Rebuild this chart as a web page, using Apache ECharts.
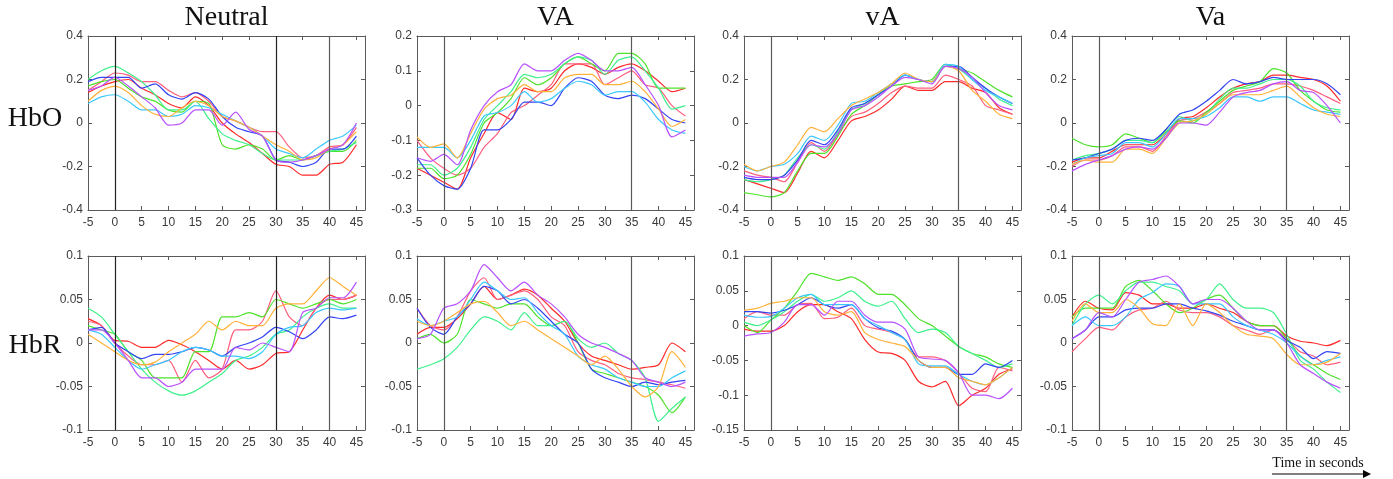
<!DOCTYPE html>
<html>
<head>
<meta charset="utf-8">
<script src="https://cdn.jsdelivr.net/npm/echarts@6/dist/echarts.min.js"></script>
<style>
  html, body { margin: 0; padding: 0; background: #fff; }
  #chart { width: 1393px; height: 479px; }
</style>
</head>
<body>
<div id="chart"></div>
<script>
// ---- data ----
const time = [-5,-2.5,0,2.5,5,7.5,10,12.5,15,17.5,20,22.5,25,27.5,30,32.5,35,37.5,40,42.5,45];
const conditions = ['Neutral','VA','vA','Va'];
const signals = ['HbO','HbR'];
const eventsNeutral = [0,30,40];
const eventsOther = [0,35];
// series order: red, pink, green, mint, blue, cyan, orange, purple
const hboNeutral = [
  [0.14,0.17,0.19,0.20,0.16,0.13,0.09,0.07,0.12,0.08,0.00,-0.05,-0.09,-0.14,-0.19,-0.20,-0.24,-0.24,-0.19,-0.18,-0.10],
  [0.15,0.19,0.23,0.22,0.19,0.19,0.15,0.12,0.14,0.10,0.03,0.01,-0.02,-0.04,-0.04,-0.11,-0.16,-0.15,-0.11,-0.10,-0.02],
  [0.17,0.19,0.20,0.16,0.12,0.10,0.06,0.05,0.10,0.09,-0.10,-0.12,-0.10,-0.12,-0.17,-0.15,-0.17,-0.15,-0.13,-0.13,-0.08],
  [0.20,0.24,0.26,0.23,0.19,0.13,0.06,0.06,0.10,0.02,-0.05,-0.08,-0.10,-0.14,-0.17,-0.17,-0.17,-0.15,-0.13,-0.12,-0.09],
  [0.19,0.21,0.21,0.21,0.16,0.18,0.13,0.11,0.14,0.11,0.03,-0.02,-0.04,-0.06,-0.17,-0.18,-0.20,-0.18,-0.12,-0.12,-0.06],
  [0.09,0.12,0.13,0.10,0.06,0.06,0.03,0.04,0.08,0.07,0.04,0.01,-0.02,-0.06,-0.12,-0.14,-0.16,-0.12,-0.08,-0.06,-0.01],
  [0.10,0.15,0.17,0.14,0.08,0.04,0.03,0.07,0.10,0.08,0.03,0.01,-0.02,-0.06,-0.10,-0.13,-0.17,-0.16,-0.12,-0.10,-0.04],
  [0.15,0.17,0.21,0.17,0.12,0.07,-0.01,0.00,0.06,0.06,-0.01,0.05,-0.03,-0.06,-0.17,-0.18,-0.17,-0.15,-0.12,-0.10,0.00]
];
const hboVA = [
  [-0.18,-0.20,-0.22,-0.24,-0.15,-0.08,-0.02,-0.04,0.05,0.04,0.05,0.10,0.12,0.11,0.09,0.11,0.12,0.10,0.07,0.04,0.05],
  [-0.10,-0.15,-0.18,-0.20,-0.18,-0.12,-0.08,-0.02,0.00,0.03,0.06,0.12,0.12,0.12,0.06,0.08,0.10,0.06,0.05,0.00,-0.03],
  [-0.18,-0.18,-0.21,-0.20,-0.14,-0.05,-0.02,0.02,0.08,0.06,0.08,0.12,0.14,0.12,0.10,0.15,0.15,0.12,0.05,0.05,0.05],
  [-0.17,-0.17,-0.20,-0.18,-0.12,-0.04,0.00,0.04,0.09,0.08,0.09,0.12,0.14,0.13,0.09,0.13,0.14,0.10,0.05,-0.01,0.00],
  [-0.15,-0.20,-0.23,-0.24,-0.18,-0.07,-0.07,-0.04,0.01,0.01,0.00,0.05,0.08,0.07,0.03,0.02,0.03,0.02,-0.01,-0.04,-0.05],
  [-0.12,-0.12,-0.12,-0.15,-0.10,-0.03,-0.02,0.00,0.04,0.01,0.02,0.05,0.07,0.06,0.03,0.04,0.04,0.01,-0.04,-0.07,-0.08],
  [-0.09,-0.12,-0.11,-0.15,-0.08,-0.01,0.02,0.03,0.06,0.04,0.04,0.08,0.09,0.09,0.06,0.06,0.07,0.04,-0.01,-0.06,-0.04],
  [-0.15,-0.16,-0.14,-0.17,-0.07,0.00,0.04,0.06,0.12,0.10,0.10,0.13,0.15,0.13,0.10,0.10,0.11,0.06,0.00,-0.09,-0.07]
];
const hbovA = [
  [-0.26,-0.28,-0.30,-0.32,-0.23,-0.13,-0.16,-0.08,0.01,0.03,0.06,0.11,0.17,0.15,0.15,0.19,0.19,0.16,0.14,0.07,0.04],
  [-0.22,-0.24,-0.25,-0.27,-0.18,-0.09,-0.13,-0.05,0.03,0.05,0.09,0.14,0.17,0.16,0.16,0.22,0.20,0.17,0.08,0.06,0.04],
  [-0.32,-0.33,-0.34,-0.32,-0.22,-0.14,-0.14,-0.06,0.04,0.08,0.13,0.17,0.18,0.19,0.20,0.27,0.25,0.23,0.19,0.15,0.12],
  [-0.26,-0.27,-0.26,-0.24,-0.16,-0.10,-0.12,-0.04,0.06,0.09,0.13,0.18,0.22,0.20,0.19,0.27,0.25,0.20,0.16,0.11,0.08],
  [-0.25,-0.26,-0.26,-0.24,-0.17,-0.08,-0.10,-0.03,0.07,0.09,0.13,0.17,0.22,0.20,0.19,0.26,0.26,0.21,0.16,0.12,0.09],
  [-0.20,-0.22,-0.20,-0.19,-0.14,-0.06,-0.08,-0.01,0.09,0.10,0.14,0.18,0.22,0.20,0.19,0.27,0.26,0.20,0.15,0.12,0.09],
  [-0.19,-0.22,-0.20,-0.18,-0.10,-0.02,-0.04,0.02,0.08,0.11,0.14,0.18,0.23,0.20,0.19,0.26,0.24,0.15,0.10,0.04,0.02],
  [-0.24,-0.25,-0.25,-0.25,-0.18,-0.10,-0.11,-0.05,0.06,0.08,0.12,0.17,0.21,0.20,0.18,0.26,0.25,0.21,0.14,0.08,0.06]
];
const hboVa = [
  [-0.18,-0.16,-0.16,-0.13,-0.10,-0.10,-0.10,-0.05,0.02,0.03,0.07,0.12,0.16,0.18,0.19,0.22,0.22,0.21,0.20,0.17,0.10],
  [-0.20,-0.17,-0.17,-0.15,-0.11,-0.11,-0.13,-0.06,0.01,0.02,0.05,0.09,0.14,0.15,0.16,0.18,0.18,0.17,0.15,0.12,0.09],
  [-0.07,-0.10,-0.11,-0.10,-0.05,-0.07,-0.09,-0.04,0.01,0.00,0.05,0.10,0.15,0.17,0.19,0.25,0.23,0.15,0.10,0.06,0.05],
  [-0.17,-0.15,-0.14,-0.12,-0.08,-0.08,-0.09,-0.03,0.03,0.01,0.04,0.11,0.16,0.16,0.18,0.20,0.20,0.17,0.10,0.07,0.06],
  [-0.17,-0.16,-0.14,-0.12,-0.08,-0.07,-0.08,-0.03,0.04,0.06,0.10,0.15,0.20,0.18,0.19,0.21,0.20,0.20,0.20,0.18,0.13],
  [-0.19,-0.16,-0.15,-0.14,-0.09,-0.09,-0.11,-0.05,0.02,0.02,0.03,0.07,0.12,0.12,0.10,0.12,0.12,0.09,0.06,0.05,0.04],
  [-0.19,-0.17,-0.18,-0.18,-0.12,-0.12,-0.14,-0.07,0.00,0.01,0.04,0.09,0.13,0.13,0.13,0.15,0.17,0.12,0.07,0.04,0.03],
  [-0.22,-0.19,-0.17,-0.15,-0.12,-0.11,-0.12,-0.07,0.00,0.00,-0.01,0.05,0.12,0.14,0.15,0.18,0.19,0.15,0.14,0.08,0.00]
];
const hbrNeutral = [
  [0.028,0.020,0.003,0.002,-0.005,-0.005,0.003,-0.002,-0.010,-0.020,-0.030,-0.020,-0.030,-0.025,-0.012,-0.010,0.015,0.040,0.055,0.050,0.055],
  [0.025,0.020,0.000,-0.015,-0.025,-0.025,-0.020,-0.045,-0.020,-0.040,-0.030,0.015,0.015,0.025,0.060,0.030,0.020,0.040,0.050,0.050,0.055],
  [0.020,0.015,0.010,-0.010,-0.020,-0.040,-0.040,-0.040,-0.010,-0.010,0.030,0.030,0.035,0.030,0.050,0.045,0.040,0.045,0.050,0.045,0.050],
  [0.040,0.030,0.010,-0.010,-0.030,-0.045,-0.055,-0.060,-0.055,-0.045,-0.035,-0.020,-0.015,-0.005,0.010,0.015,0.030,0.040,0.045,0.040,0.040],
  [0.015,0.018,0.000,-0.010,-0.018,-0.013,-0.013,-0.010,-0.005,-0.008,-0.015,-0.005,0.000,0.007,0.018,0.013,0.005,0.015,0.030,0.028,0.032],
  [0.015,0.010,-0.005,-0.020,-0.030,-0.025,-0.020,-0.010,-0.005,-0.008,-0.015,-0.015,-0.018,-0.010,0.010,0.018,0.020,0.035,0.040,0.038,0.040],
  [0.010,0.000,-0.010,-0.020,-0.025,-0.022,-0.010,0.000,0.010,0.025,0.015,0.025,0.020,0.020,0.040,0.045,0.045,0.060,0.075,0.065,0.055],
  [0.015,0.015,0.000,-0.020,-0.040,-0.040,-0.050,-0.045,-0.030,-0.030,-0.030,-0.005,-0.008,0.000,-0.005,-0.010,0.035,0.040,0.052,0.052,0.070]
];
const hbrVA = [
  [0.010,0.018,0.018,0.028,0.045,0.065,0.050,0.055,0.062,0.055,0.040,0.025,0.000,-0.015,-0.020,-0.025,-0.030,-0.028,-0.025,0.000,-0.010],
  [0.040,0.020,0.015,0.030,0.060,0.075,0.050,0.055,0.060,0.050,0.030,0.020,-0.010,-0.020,-0.025,-0.035,-0.040,-0.042,-0.045,-0.048,-0.052],
  [0.005,0.010,0.000,0.010,0.050,0.045,0.040,0.045,0.045,0.030,0.020,0.025,0.000,-0.030,-0.035,-0.040,-0.045,-0.050,-0.060,-0.080,-0.062],
  [-0.030,-0.025,-0.018,-0.005,0.015,0.030,0.025,0.015,0.035,0.020,0.020,0.025,0.005,-0.005,0.000,-0.012,-0.020,-0.040,-0.090,-0.075,-0.062],
  [0.040,0.018,0.010,0.030,0.045,0.065,0.060,0.045,0.050,0.040,0.025,0.010,0.000,-0.030,-0.040,-0.045,-0.050,-0.045,-0.048,-0.045,-0.043],
  [0.028,0.020,0.025,0.030,0.050,0.070,0.060,0.050,0.052,0.035,0.020,0.010,-0.015,-0.025,-0.030,-0.040,-0.045,-0.050,-0.050,-0.040,-0.032],
  [0.025,0.020,0.025,0.035,0.045,0.048,0.035,0.020,0.025,0.015,0.005,-0.005,-0.015,-0.025,-0.015,-0.030,-0.050,-0.062,-0.050,-0.010,-0.028],
  [0.005,0.010,0.040,0.045,0.060,0.090,0.075,0.060,0.070,0.055,0.045,0.030,0.010,0.000,-0.005,-0.012,-0.020,-0.040,-0.045,-0.050,-0.045]
];
const hbrvA = [
  [-0.005,-0.008,-0.008,0.000,0.020,0.030,0.030,0.020,0.010,-0.020,-0.038,-0.040,-0.050,-0.080,-0.088,-0.080,-0.115,-0.100,-0.090,-0.070,-0.062],
  [0.010,0.020,0.015,0.015,0.030,0.032,0.010,0.012,0.025,0.000,-0.005,-0.010,-0.020,-0.045,-0.045,-0.050,-0.068,-0.090,-0.095,-0.060,-0.065],
  [0.000,-0.010,0.008,0.025,0.050,0.075,0.070,0.065,0.070,0.060,0.045,0.045,0.030,0.010,0.000,-0.015,-0.030,-0.040,-0.045,-0.055,-0.060],
  [0.005,0.000,0.008,0.020,0.035,0.045,0.035,0.040,0.050,0.035,0.028,0.035,0.010,-0.010,-0.005,-0.010,-0.030,-0.040,-0.050,-0.060,-0.055],
  [0.020,0.020,0.018,0.022,0.030,0.040,0.030,0.025,0.030,0.010,-0.003,-0.008,-0.020,-0.050,-0.060,-0.060,-0.070,-0.070,-0.055,-0.060,-0.050],
  [0.015,0.012,0.013,0.025,0.040,0.045,0.030,0.030,0.030,0.010,0.000,-0.010,-0.020,-0.055,-0.058,-0.058,-0.070,-0.080,-0.085,-0.075,-0.060],
  [0.022,0.025,0.032,0.035,0.040,0.040,0.020,0.015,0.020,-0.010,-0.020,-0.025,-0.030,-0.050,-0.060,-0.060,-0.075,-0.080,-0.085,-0.075,-0.060],
  [-0.015,-0.012,-0.010,0.005,0.030,0.030,0.015,0.035,0.035,0.015,0.005,0.005,-0.005,-0.045,-0.048,-0.050,-0.068,-0.100,-0.100,-0.105,-0.090]
];
const hbrVa = [
  [0.030,0.048,0.040,0.038,0.058,0.055,0.045,0.045,0.040,0.040,0.045,0.040,0.035,0.025,0.020,0.020,0.008,0.002,0.000,-0.003,0.003],
  [-0.010,0.005,0.018,0.015,0.030,0.038,0.040,0.048,0.038,0.035,0.035,0.030,0.020,0.015,0.010,0.015,0.005,-0.010,-0.015,-0.025,-0.022],
  [0.030,0.040,0.040,0.040,0.065,0.072,0.060,0.045,0.035,0.040,0.050,0.055,0.040,0.025,0.020,0.020,0.005,-0.015,-0.025,-0.035,-0.042],
  [0.020,0.045,0.055,0.045,0.060,0.070,0.070,0.065,0.060,0.045,0.050,0.068,0.050,0.040,0.040,0.035,0.010,-0.020,-0.030,-0.045,-0.057],
  [0.005,0.015,0.030,0.030,0.038,0.040,0.040,0.045,0.045,0.040,0.037,0.032,0.025,0.020,0.015,0.015,0.003,-0.005,-0.018,-0.010,-0.012],
  [0.020,0.030,0.020,0.020,0.030,0.050,0.058,0.068,0.065,0.045,0.045,0.045,0.030,0.020,0.015,0.010,0.000,-0.015,-0.025,-0.020,-0.016],
  [0.025,0.045,0.035,0.035,0.050,0.040,0.022,0.020,0.045,0.020,0.045,0.035,0.020,0.010,0.008,0.005,-0.013,-0.025,-0.025,-0.022,-0.012],
  [0.005,0.015,0.035,0.030,0.050,0.070,0.073,0.077,0.065,0.045,0.050,0.050,0.040,0.025,0.015,0.015,0.000,-0.025,-0.035,-0.045,-0.052]
];

// ---- styles / layout ----
const lineColors = ['#ff2a2a','#ff5f7e','#4ee22a','#3ff08c','#3344f2','#3cc8ff','#ffb23a','#b850ff'];
const colLeft = [88, 417, 744, 1072];
const rowTop = [36, 256];
const plotW = 277, plotH = 174;
const xMax = 46.6;

const panels = [
  {row:0, col:0, data:hboNeutral, yMin:-0.4, yMax:0.4, yInt:0.2, events:eventsNeutral},
  {row:0, col:1, data:hboVA,      yMin:-0.3, yMax:0.2, yInt:0.1, events:eventsOther},
  {row:0, col:2, data:hbovA,      yMin:-0.4, yMax:0.4, yInt:0.2, events:eventsOther},
  {row:0, col:3, data:hboVa,      yMin:-0.4, yMax:0.4, yInt:0.2, events:eventsOther},
  {row:1, col:0, data:hbrNeutral, yMin:-0.1, yMax:0.1, yInt:0.05, events:eventsNeutral},
  {row:1, col:1, data:hbrVA,      yMin:-0.1, yMax:0.1, yInt:0.05, events:eventsOther},
  {row:1, col:2, data:hbrvA,      yMin:-0.15, yMax:0.1, yInt:0.05, events:eventsOther},
  {row:1, col:3, data:hbrVa,      yMin:-0.1, yMax:0.1, yInt:0.05, events:eventsOther}
];

const axisColor = '#5a5a5a';
const labelStyle = { color:'#3a3a3a', fontSize:12, fontFamily:'Liberation Sans, Arial, sans-serif' };

const grid = [], xAxis = [], yAxis = [], series = [];
panels.forEach((p, i) => {
  grid.push({ left: colLeft[p.col], top: rowTop[p.row], width: plotW, height: plotH, show:false });
  const xCommon = { type:'value', gridIndex:i, min:-5, max:xMax, interval:5,
    axisLine:{ show:true, onZero:false, lineStyle:{ color:axisColor, width:1 } },
    axisTick:{ show:true, inside:true, length:4, lineStyle:{ color:axisColor } },
    splitLine:{ show:false } };
  xAxis.push(Object.assign({}, xCommon, { position:'bottom',
    axisLabel:{ show:true, margin:7, showMaxLabel:false, ...labelStyle,
      formatter: v => (Math.abs(v % 5) < 1e-9 ? String(v) : '') } }));
  xAxis.push(Object.assign({}, xCommon, { position:'top', axisLabel:{ show:false } }));
  const yCommon = { type:'value', gridIndex:i, min:p.yMin, max:p.yMax, interval:p.yInt,
    axisLine:{ show:true, onZero:false, lineStyle:{ color:axisColor, width:1 } },
    axisTick:{ show:true, inside:true, length:4, lineStyle:{ color:axisColor } },
    splitLine:{ show:false } };
  yAxis.push(Object.assign({}, yCommon, { position:'left',
    axisLabel:{ show:true, margin:5, ...labelStyle,
      formatter: v => String(parseFloat(v.toFixed(3))) } }));
  yAxis.push(Object.assign({}, yCommon, { position:'right', axisLabel:{ show:false } }));

  const evColor = (p.col === 0) ? '#222' : '#5a5a5a';
  p.data.forEach((vals, k) => {
    const s = {
      type:'line', xAxisIndex:2*i, yAxisIndex:2*i,
      data: time.map((t, j) => [t, vals[j]]),
      showSymbol:false, smooth:0.25, silent:true,
      lineStyle:{ color: lineColors[k], width:1.2 },
      itemStyle:{ color: lineColors[k] },
      z: 3
    };
    if (k === 0) {
      s.markLine = {
        silent:true, symbol:['none','none'], animation:false,
        label:{ show:false },
        emphasis:{ disabled:true },
        lineStyle:{ type:'solid', width:1.2, color: evColor },
        data: p.events.map(v => ({ xAxis: v,
          lineStyle: { color: (p.col === 0 && v === 40) ? '#5a5a5a' : evColor } }))
      };
    }
    series.push(s);
  });
});

const serif = 'Liberation Serif, Times New Roman, serif';
const graphic = [];
conditions.forEach((c, ci) => {
  graphic.push({ type:'text', x: colLeft[ci] + plotW/2, y: 18, z:10,
    style:{ text:c, font:'28px ' + serif, fill:'#111', textAlign:'center', textVerticalAlign:'middle' } });
});
const rowLabelY = [119, 346];
signals.forEach((s, si) => {
  graphic.push({ type:'text', x:35, y:rowLabelY[si], z:10,
    style:{ text:s, font:'28px ' + serif, fill:'#111', textAlign:'center', textVerticalAlign:'middle' } });
});
graphic.push({ type:'text', x:1318, y:463, z:10,
  style:{ text:'Time in seconds', font:'14px ' + serif, fill:'#111', textAlign:'center', textVerticalAlign:'middle' } });
graphic.push({ type:'line', z:10, shape:{ x1:1272, y1:474, x2:1364, y2:474 }, style:{ stroke:'#000', lineWidth:1.2 } });
graphic.push({ type:'polygon', z:10, shape:{ points:[[1363,470],[1371,474],[1363,478]] }, style:{ fill:'#000' } });

const chart = echarts.init(document.getElementById('chart'), null, { renderer:'canvas' });
chart.setOption({
  animation:false,
  backgroundColor:'#fff',
  grid, xAxis, yAxis, series, graphic
});
</script>
</body>
</html>
